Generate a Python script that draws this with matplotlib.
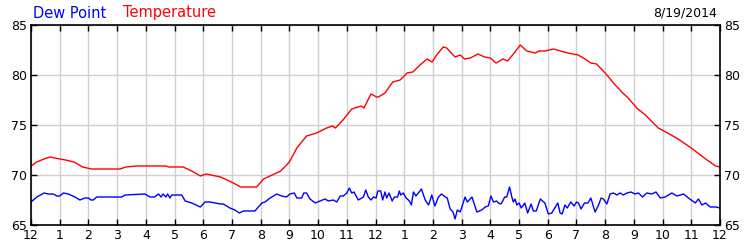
import matplotlib
matplotlib.use("Agg")
import matplotlib.pyplot as plt

# hours since midnight
temp_hours = [0.0, 0.2, 0.45, 0.66, 1.0, 1.2, 1.5, 1.8, 2.1, 2.5, 3.1, 3.3, 3.7, 4.2, 4.7, 4.8,
              5.3, 5.6, 5.9, 6.1, 6.6, 7.05, 7.3, 7.86, 8.1, 8.4, 8.7, 9.0, 9.26, 9.4, 9.6,
              9.95, 10.3, 10.5, 10.6, 10.87, 11.17, 11.5, 11.6, 11.84, 12.04, 12.1, 12.33,
              12.6, 12.86, 13.1, 13.3, 13.55, 13.8, 13.97, 14.13, 14.36, 14.48, 14.77, 14.95,
              15.1, 15.3, 15.57, 15.8, 16.0, 16.2, 16.44, 16.6, 16.86, 17.04, 17.27, 17.56,
              17.7, 17.9, 18.2, 18.7, 19.06, 19.3, 19.5, 19.7, 20.0, 20.35, 20.58, 20.8,
              21.1, 21.4, 21.85, 22.3, 22.54, 23.0, 23.5, 23.85, 24.0]
temp_vals = [70.9, 71.3, 71.6, 71.8, 71.6, 71.5, 71.3, 70.8, 70.6, 70.6, 70.6, 70.8, 70.9, 70.9, 70.9, 70.8,
             70.8, 70.4, 69.9, 70.1, 69.8, 69.2, 68.8, 68.8, 69.6, 70.0, 70.4, 71.3, 72.7, 73.2, 73.9,
             74.2, 74.7, 74.9, 74.7, 75.5, 76.6, 76.9, 76.7, 78.1, 77.8, 77.8, 78.2,
             79.3, 79.5, 80.2, 80.3, 81.0, 81.6, 81.3, 82.0, 82.8, 82.7, 81.8, 82.0,
             81.6, 81.7, 82.1, 81.8, 81.7, 81.2, 81.6, 81.4, 82.3, 83.0, 82.4, 82.2,
             82.4, 82.4, 82.6, 82.2, 82.0, 81.6, 81.2, 81.1, 80.2, 79.0, 78.3, 77.7,
             76.7, 76.0, 74.7, 74.0, 73.6, 72.7, 71.6, 70.9, 70.8]

dew_hours = [0.0, 0.2, 0.46, 0.6, 0.77, 0.9, 1.0, 1.13, 1.3, 1.53, 1.7, 1.88, 2.0, 2.09, 2.17, 2.29,
             3.16, 3.28, 3.97, 4.15, 4.3, 4.44, 4.53, 4.6, 4.7, 4.76, 4.84, 4.9, 5.25, 5.37,
             5.6, 5.9, 6.06, 6.24, 6.6, 6.7, 6.93, 7.1, 7.26, 7.4, 7.8, 8.04, 8.15, 8.33,
             8.56, 8.73, 8.9, 9.02, 9.17, 9.26, 9.43, 9.5, 9.6, 9.72, 9.9, 10.07, 10.24,
             10.36, 10.53, 10.65, 10.77, 10.88, 11.0, 11.09, 11.17, 11.25, 11.4, 11.58,
             11.66, 11.75, 11.84, 11.93, 12.02, 12.08, 12.18, 12.25, 12.33, 12.39, 12.47,
             12.58, 12.66, 12.77, 12.83, 12.88, 12.97, 13.07, 13.18, 13.25, 13.32, 13.41,
             13.6, 13.73, 13.85, 13.96, 14.07, 14.19, 14.3, 14.43, 14.5, 14.6, 14.7, 14.77,
             14.85, 14.95, 15.12, 15.2, 15.36, 15.53, 15.7, 15.82, 15.93, 16.02, 16.11,
             16.22, 16.28, 16.37, 16.43, 16.5, 16.57, 16.67, 16.75, 16.8, 16.86, 16.92,
             17.0, 17.08, 17.2, 17.3, 17.42, 17.5, 17.6, 17.74, 17.9, 18.02, 18.14, 18.35,
             18.43, 18.5, 18.6, 18.68, 18.8, 18.92, 19.0, 19.07, 19.16, 19.28, 19.4, 19.5,
             19.65, 19.77, 19.86, 19.94, 20.06, 20.17, 20.29, 20.41, 20.52, 20.64, 20.76,
             20.9, 21.04, 21.16, 21.3, 21.45, 21.63, 21.77, 21.92, 22.09, 22.32, 22.5,
             22.73, 22.9, 23.14, 23.25, 23.37, 23.5, 23.66, 23.86, 24.0]
dew_vals = [67.3, 67.8, 68.2, 68.1, 68.1, 67.9, 67.9, 68.2, 68.1, 67.8, 67.5, 67.7, 67.7, 67.5, 67.5, 67.8,
            67.8, 68.0, 68.1, 67.8, 67.8, 68.1, 67.8, 68.1, 67.8, 68.1, 67.7, 68.0, 68.0, 67.4,
            67.2, 66.8, 67.3, 67.3, 67.1, 67.1, 66.7, 66.5, 66.2, 66.4, 66.4, 67.2, 67.3, 67.7,
            68.1, 67.9, 67.8, 68.1, 68.2, 67.7, 67.7, 68.2, 68.2, 67.6, 67.2, 67.4, 67.6,
            67.4, 67.5, 67.3, 67.9, 67.9, 68.2, 68.7, 68.2, 68.3, 67.5, 67.8,
            68.5, 67.8, 67.5, 67.8, 67.7, 68.4, 68.4, 67.5, 68.3, 67.7, 68.2,
            67.4, 67.8, 67.8, 68.4, 68.0, 68.2, 67.7, 67.4, 67.0, 68.3, 67.9,
            68.6, 67.5, 67.0, 68.0, 66.9, 67.8, 68.1, 67.8, 67.7, 66.6, 66.3, 65.6,
            66.5, 66.3, 67.8, 67.3, 67.8, 66.3, 66.5, 66.8, 66.9, 67.9, 67.3,
            67.4, 67.2, 67.1, 67.4, 67.8, 67.8, 68.8, 67.8, 67.3, 67.6, 67.0,
            67.2, 66.7, 67.2, 66.2, 67.1, 66.4, 66.4, 67.6, 67.2, 66.1, 66.2, 67.2,
            66.2, 66.1, 67.0, 66.7, 67.3, 66.9, 67.3, 67.2, 66.6, 67.2, 67.2, 67.7,
            66.3, 67.0, 67.7, 67.6, 67.1, 68.1, 68.2, 68.0, 68.2, 68.0, 68.2,
            68.3, 68.1, 68.2, 67.8, 68.2, 68.1, 68.3, 67.7, 67.8, 68.2, 67.9,
            68.1, 67.7, 67.2, 67.6, 67.0, 67.2, 66.8, 66.8, 66.7]

hour_labels = ['12'] + [str(h) for h in range(1, 12)] + ['12'] + [str(h) for h in range(1, 12)] + ['12']
date_label = "8/19/2014"

fig = plt.figure(figsize=(7.5, 2.5), dpi=100)
ax = fig.add_axes([31/750, 25/250, 689/750, 200/250])

ax.plot(dew_hours, dew_vals, color='#0000ff', lw=1)
ax.plot(temp_hours, temp_vals, color='#ff0000', lw=1)

ax.set_xlim(0, 24)
ax.set_ylim(65, 85)
ax.set_xticks(range(25))
ax.set_xticklabels(hour_labels)
ax.set_yticks([65, 70, 75, 80, 85])
ax.grid(True, color='#d0d0d0', lw=1)
ax.set_axisbelow(True)
ax.tick_params(direction='in', length=4, width=1, color='black', labelsize=9,
               top=True, right=True, labelright=True, pad=3)
for s in ax.spines.values():
    s.set_linewidth(1.2)
    s.set_color('black')

fig.text(33/750, 1 - 13/250, "Dew Point", color='#0000ff', fontsize=10.5, va='center', ha='left')
fig.text(123/750, 1 - 13/250, "Temperature", color='#ff0000', fontsize=10.5, va='center', ha='left')
fig.text(717/750, 1 - 13/250, date_label, color='black', fontsize=9, va='center', ha='right')

fig.savefig('out.png', dpi=100)
